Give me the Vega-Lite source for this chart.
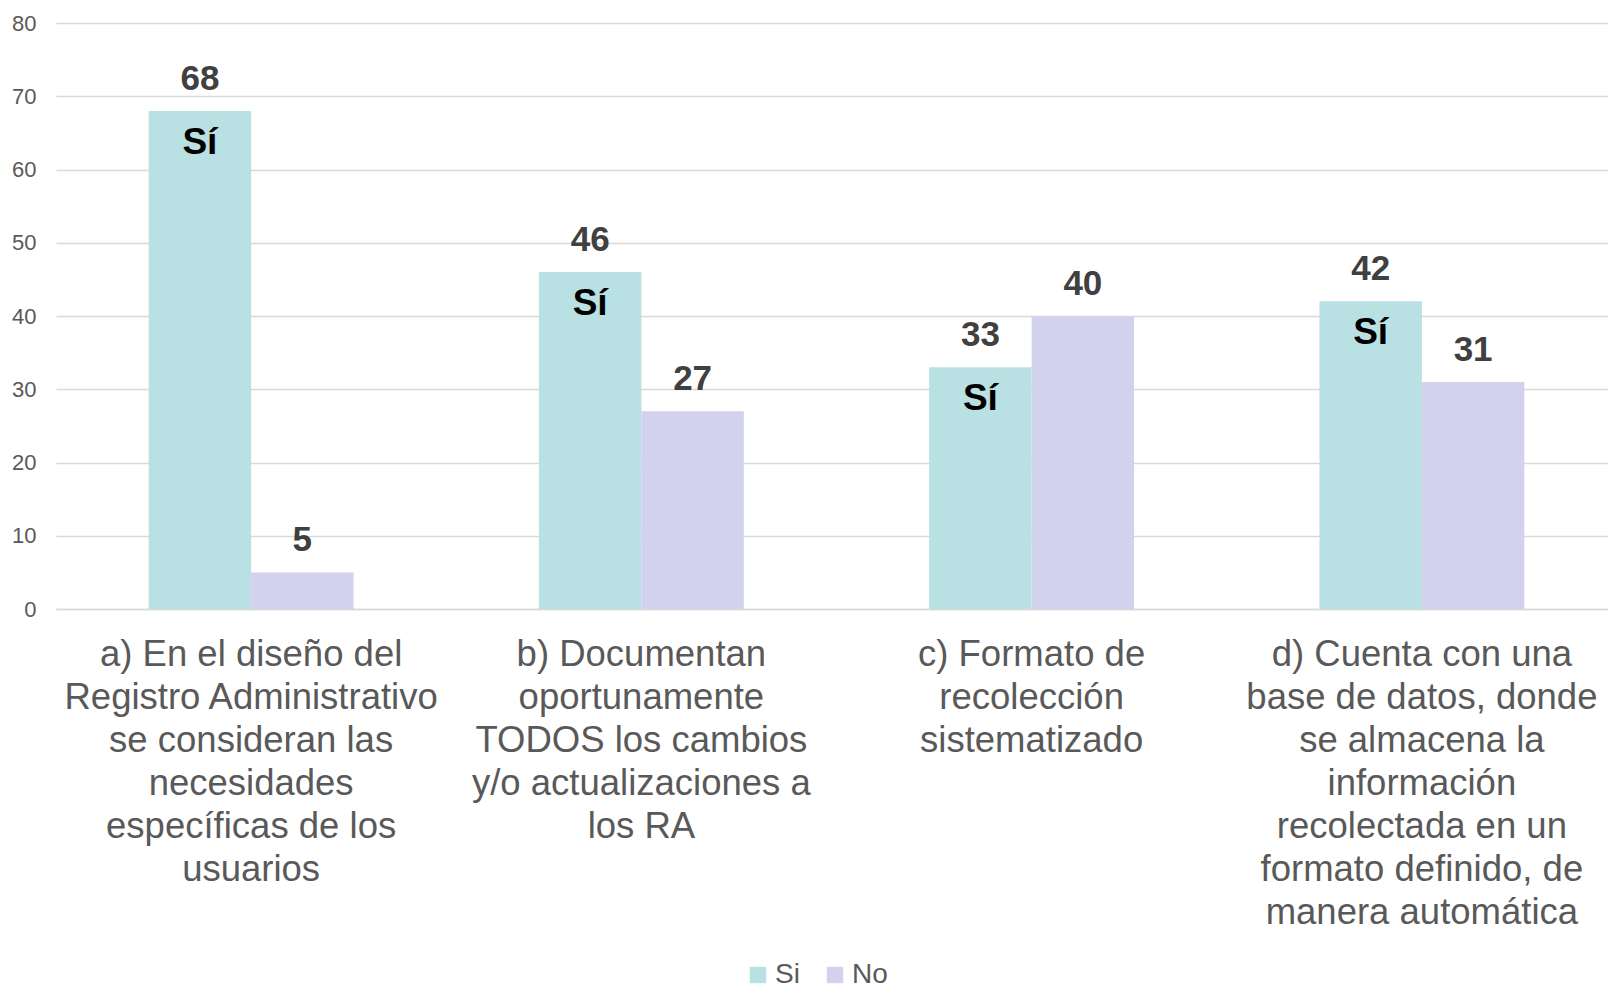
{
  "$schema": "https://vega.github.io/schema/vega-lite/v6.json",
  "width": 1561,
  "height": 586,
  "autosize": {"type": "none"},
  "padding": {"left": 56, "top": 23, "right": 0, "bottom": 380},
  "background": "white",
  "config": {
    "view": {"stroke": null},
    "font": "Liberation Sans"
  },
  "data": {
    "values": [
      {"pregunta": "a) En el diseño del|Registro Administrativo|se consideran  las|necesidades|específicas de los|usuarios", "respuesta": "Si", "valor": 68},
      {"pregunta": "a) En el diseño del|Registro Administrativo|se consideran  las|necesidades|específicas de los|usuarios", "respuesta": "No", "valor": 5},
      {"pregunta": "b) Documentan|oportunamente|TODOS los cambios|y/o actualizaciones a|los RA", "respuesta": "Si", "valor": 46},
      {"pregunta": "b) Documentan|oportunamente|TODOS los cambios|y/o actualizaciones a|los RA", "respuesta": "No", "valor": 27},
      {"pregunta": "c) Formato de|recolección|sistematizado", "respuesta": "Si", "valor": 33},
      {"pregunta": "c) Formato de|recolección|sistematizado", "respuesta": "No", "valor": 40},
      {"pregunta": "d) Cuenta con una|base de datos, donde|se almacena la|información|recolectada en un|formato definido, de|manera automática", "respuesta": "Si", "valor": 42},
      {"pregunta": "d) Cuenta con una|base de datos, donde|se almacena la|información|recolectada en un|formato definido, de|manera automática", "respuesta": "No", "valor": 31}
    ]
  },
  "encoding": {
    "x": {
      "field": "pregunta",
      "type": "nominal",
      "sort": null,
      "scale": {"paddingInner": 0.475, "paddingOuter": 0.2375},
      "axis": {
        "title": null,
        "labelAngle": 0,
        "labelExpr": "split(datum.value, '|')",
        "labelFontSize": 36.5,
        "labelLineHeight": 43,
        "labelColor": "#595959",
        "labelPadding": 27,
        "labelBaseline": "top",
        "labelLimit": 0,
        "ticks": false,
        "domainColor": "#d9d9d9",
        "domainWidth": 1.5
      }
    },
    "xOffset": {"field": "respuesta", "type": "nominal", "sort": ["Si", "No"]},
    "y": {
      "field": "valor",
      "type": "quantitative",
      "scale": {"domain": [0, 80], "nice": false},
      "axis": {
        "title": null,
        "values": [0, 10, 20, 30, 40, 50, 60, 70, 80],
        "labelFontSize": 22,
        "labelColor": "#595959",
        "labelPadding": 20,
        "domain": false,
        "ticks": false,
        "gridColor": "#d9d9d9",
        "gridWidth": 1.5
      }
    }
  },
  "layer": [
    {
      "mark": {"type": "bar"},
      "encoding": {
        "color": {
          "field": "respuesta",
          "type": "nominal",
          "sort": ["Si", "No"],
          "scale": {"domain": ["Si", "No"], "range": ["#b9e0e2", "#d2d2ee"]},
          "legend": {
            "title": null,
            "orient": "none",
            "direction": "horizontal",
            "legendX": 688,
            "legendY": 938,
            "symbolType": "square",
            "symbolSize": 270,
            "symbolStrokeWidth": 0,
            "labelFontSize": 28,
            "labelColor": "#595959",
            "labelOffset": 3,
            "columnPadding": 21
          }
        }
      }
    },
    {
      "mark": {"type": "text", "fontSize": 35, "fontWeight": "bold", "color": "#404040", "baseline": "alphabetic", "dy": -21},
      "encoding": {"text": {"field": "valor", "type": "quantitative"}}
    },
    {
      "transform": [{"filter": "datum.respuesta === 'Si'"}],
      "mark": {"type": "text", "fontSize": 37, "fontWeight": "bold", "color": "#000000", "baseline": "middle", "dy": 32, "text": "Sí"},
      "encoding": {}
    }
  ]
}
